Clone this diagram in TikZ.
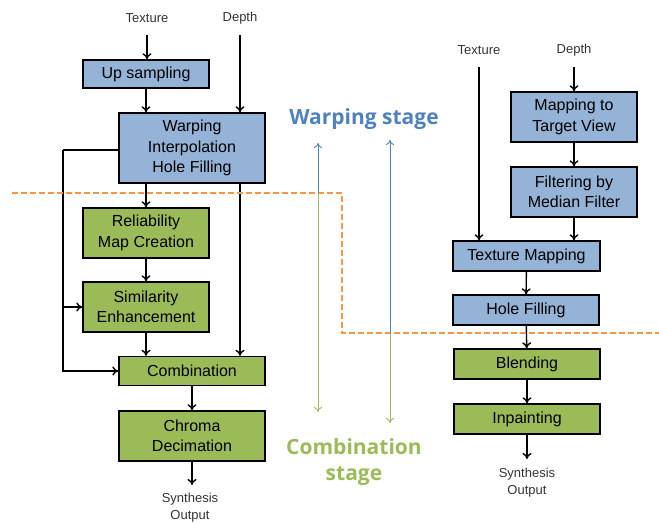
\documentclass[tikz,border=0pt]{standalone}
\usepackage{fontspec}
\setmainfont{Liberation Sans}
\newfontfamily\stagefont{Open Sans}
\usetikzlibrary{arrows.meta}

\definecolor{warpblue}{RGB}{149,179,215}
\definecolor{combgreen}{RGB}{155,187,89}
\definecolor{stageblue}{RGB}{79,129,189}
\definecolor{divorange}{RGB}{247,150,70}

\begin{document}
\begin{tikzpicture}
    [
        x = 1pt, y = -1pt,
        block/.style      = {draw, line width=1.4pt, inner sep=0pt, align=center,
                             font=\fontsize{16}{20.5}\selectfont},
        warpblock/.style  = {block, fill=warpblue},
        combblock/.style  = {block, fill=combgreen},
        io/.style         = {text=black!80, align=center, font=\fontsize{13}{17}\selectfont},
        flow/.style       = {-{To[length=6pt,width=9pt]}, line width=1.4pt},
        divider/.style    = {draw=divorange, line width=1.5pt, dash pattern=on 6pt off 3pt},
        stagearrow/.style = {-{To[length=5pt,width=8pt]}, line width=0.9pt},
        stagelabel/.style = {font=\stagefont\bfseries\fontsize{21}{26}\selectfont, align=center}
    ]
    \useasboundingbox (0,0) rectangle (659,523);

    % left flow
    \node [io] at (147,18) (texL) {Texture};
    \node [io] at (240,18) (depL) {Depth};
    \node [warpblock, minimum width=126pt, minimum height=28pt] at (146,74) (upsample) {Up sampling};
    \node [warpblock, minimum width=146pt, minimum height=70pt] at (192,148) (warp) {Warping\\Interpolation\\Hole Filling};
    \node [combblock, minimum width=126pt, minimum height=50pt] at (146,233) (reliab) {Reliability\\Map Creation};
    \node [combblock, minimum width=126pt, minimum height=50pt] at (146,307) (simil) {Similarity\\Enhancement};
    \node [combblock, minimum width=146pt, minimum height=29pt] at (192,371) (combine) {Combination};
    \node [combblock, minimum width=146pt, minimum height=50pt] at (192,436) (chroma) {Chroma\\Decimation};
    \node [io] at (190,508) (outL) {Synthesis\\Output};
    \coordinate (texLfoot) at (147,35);
    \coordinate (depLfoot) at (240,35);
    \coordinate (outLtip) at (192,485);
    \coordinate (loopTop) at (63,150);
    \coordinate (loopTap) at (63,307);

    \draw [flow] (texLfoot) -- (upsample.north -| texLfoot);
    \draw [flow] (upsample.south) -- (upsample.south |- warp.north);
    \draw [flow] (depLfoot) -- (warp.north -| depLfoot);
    \draw [flow] (warp.south -| reliab) -- (reliab.north);
    \draw [flow] (reliab) -- (simil);
    \draw [flow] (simil.south) -- (simil.south |- combine.north);
    \draw [flow] (warp.south -| depLfoot) -- (combine.north -| depLfoot);
    \draw [line width=1.4pt] (warp.west |- loopTop) -- (loopTop);
    \draw [flow] (loopTop) |- (combine.west);
    \draw [flow] (loopTap) -- (simil.west);
    \draw [flow] (combine) -- (chroma);
    \draw [flow] (chroma.south) -- (outLtip);

    % right flow
    \node [io] at (479,50) (texR) {Texture};
    \node [io] at (574,50) (depR) {Depth};
    \node [warpblock, minimum width=126pt, minimum height=50pt] at (574,117) (mapview) {Mapping to\\Target View};
    \node [warpblock, minimum width=126pt, minimum height=50pt] at (574,192) (median) {Filtering by\\Median Filter};
    \node [warpblock, minimum width=147pt, minimum height=30pt] at (526.5,256) (texmap) {Texture Mapping};
    \node [warpblock, minimum width=146pt, minimum height=30pt] at (526,310) (holefill) {Hole Filling};
    \node [combblock, minimum width=146pt, minimum height=30pt] at (527,364) (blend) {Blending};
    \node [combblock, minimum width=146pt, minimum height=30pt] at (527,419) (inpaint) {Inpainting};
    \node [io] at (527,483) (outR) {Synthesis\\Output};
    \coordinate (texRfoot) at (479,67);
    \coordinate (depRfoot) at (574,67);
    \coordinate (outRtip) at (527,459);

    \draw [flow] (depRfoot) -- (mapview.north);
    \draw [flow] (mapview) -- (median);
    \draw [flow] (median.south) -- (median.south |- texmap.north);
    \draw [flow] (texRfoot) -- (texmap.north -| texRfoot);
    \draw [flow] (texmap) -- (holefill);
    \draw [flow] (holefill) -- (blend);
    \draw [flow] (blend) -- (inpaint);
    \draw [flow] (inpaint.south) -- (outRtip);

    % stage split
    \draw [divider] (12,193) -- (342,193) -- (342,333) -- (659,333);
    \node [stagelabel, text=stageblue] at (364,119) (warpstage) {Warping stage};
    \node [stagelabel, text=combgreen] at (354,462) (combstage) {Combination\\stage};
    \coordinate (splitA) at (318,193);
    \coordinate (splitB) at (390,333);
    \draw [stagearrow, stageblue] (splitA) -- (318,143);
    \draw [stagearrow, combgreen] (splitA) -- (318,412);
    \draw [stagearrow, stageblue] (splitB) -- (390,140);
    \draw [stagearrow, combgreen] (splitB) -- (390,423);
\end{tikzpicture}
\end{document}
